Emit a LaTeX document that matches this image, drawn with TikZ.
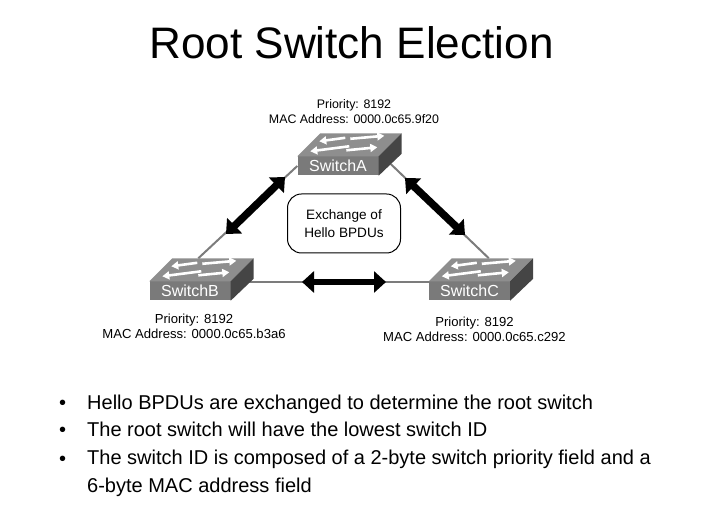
\documentclass[tikz,border=0pt]{standalone}
\usepackage{fontspec}
\setmainfont{Liberation Sans}
\usetikzlibrary{arrows.meta}
\definecolor{frontgray}{HTML}{7A7A7A}
\definecolor{topgray}{HTML}{8E8E8E}
\definecolor{sidegray}{HTML}{454545}
\definecolor{linkgray}{HTML}{7C7C7C}
\tikzset{
  switchfront/.style={rectangle, fill=frontgray, text=white, minimum width=81pt, minimum height=19pt, inner sep=0pt, font=\fontsize{16}{16}\selectfont},
  swlabel/.style={align=center, inner sep=0pt, font=\fontsize{13.1}{15}\selectfont},
  bullettext/.style={anchor=base west, align=left, inner sep=0pt, font=\fontsize{20}{28}\selectfont},
  link/.style={draw=linkgray, line width=2pt},
  exchange/.style={{Triangle[length=12pt,width=21pt]}-{Triangle[length=12pt,width=21pt]}, line width=7.5pt, black},
  flowarrow/.style={-{Triangle[length=7pt,width=8pt]}, white, line width=2.6pt}
}
% top and side faces, arrows on the top face
\newcommand{\switchbody}[1]{
\fill[topgray] (#1.north west) -- ([xshift=23pt,yshift=23pt]#1.north west) -- ([xshift=23pt,yshift=23pt]#1.north east) -- (#1.north east) -- cycle;
\fill[sidegray] (#1.north east) -- ([xshift=23pt,yshift=23pt]#1.north east) -- ([xshift=23pt,yshift=22pt]#1.south east) -- (#1.south east) -- cycle;
\draw[flowarrow] ([xshift=48pt,yshift=18.5pt]#1.north west) -- ([xshift=22pt,yshift=15pt]#1.north west);
\draw[flowarrow] ([xshift=53pt,yshift=17.5pt]#1.north west) -- ([xshift=87pt,yshift=20.5pt]#1.north west);
\draw[flowarrow] ([xshift=52pt,yshift=10pt]#1.north west) -- ([xshift=13pt,yshift=5pt]#1.north west);
\draw[flowarrow] ([xshift=49pt,yshift=6pt]#1.north west) -- ([xshift=80pt,yshift=9pt]#1.north west);
}
\begin{document}
\begin{tikzpicture}[x=1pt,y=1pt]
\useasboundingbox (0,0) rectangle (705,513);
\node[inner sep=0pt, font=\fontsize{44.1}{44.1}\selectfont] (title) at (351.5,470) {Root Switch Election};
\node[switchfront] (SwitchA) at (338,347) {SwitchA};
\node[switchfront] (SwitchB) at (190,222) {SwitchB};
\node[switchfront] (SwitchC) at (469.5,222) {SwitchC};
\coordinate (topB) at ([xshift=49pt,yshift=23pt]SwitchB.north west);
\coordinate (topC) at ([xshift=60pt,yshift=23pt]SwitchC.north west);
\draw[link] (SwitchA.west) -- (topB);
\draw[link] ([xshift=12pt,yshift=2pt]SwitchA.east) -- (topC);
\draw[link] ([yshift=-1pt]SwitchB.north east) -- ([yshift=-1pt]SwitchC.north west);
\switchbody{SwitchA}
\switchbody{SwitchB}
\switchbody{SwitchC}
% arrows between the switches
\coordinate (ABtop) at (285,336);
\coordinate (ABbot) at (226,279);
\coordinate (ACtop) at (405,335);
\coordinate (ACbot) at (465,278);
\coordinate (BCleft) at (302,231);
\coordinate (BCright) at (386,231);
\draw[exchange] (ABbot) -- (ABtop);
\draw[exchange] (ACbot) -- (ACtop);
\draw[exchange, line width=5.5pt] (BCleft) -- (BCright);
\node[rectangle, rounded corners=14pt, draw=black, line width=1pt, minimum width=113pt, minimum height=59pt, align=center, font=\fontsize{13.6}{17.5}\selectfont] (hello) at (344,289.5) {Exchange of\\Hello BPDUs};
\node[swlabel, font=\fontsize{12.4}{15}\selectfont] (labelA) at (354,401) {Priority: 8192\\MAC Address: 0000.0c65.9f20};
\node[swlabel] (labelB) at (194,187) {Priority: 8192\\MAC Address: 0000.0c65.b3a6};
\node[swlabel] (labelC) at (474.5,184) {Priority: 8192\\MAC Address: 0000.0c65.c292};
\node[bullettext] (dot1) at (59,103) {•};
\node[bullettext] (dot2) at (59,76) {•};
\node[bullettext] (dot3) at (59,47.5) {•};
\node[bullettext] (line1) at (87,103) {Hello BPDUs are exchanged to determine the root switch};
\node[bullettext] (line2) at (87,76) {The root switch will have the lowest switch ID};
\node[bullettext, anchor=west] (line3) at (87,40) {The switch ID is composed of a 2-byte switch priority field and a\\6-byte MAC address field};
\end{tikzpicture}
\end{document}
